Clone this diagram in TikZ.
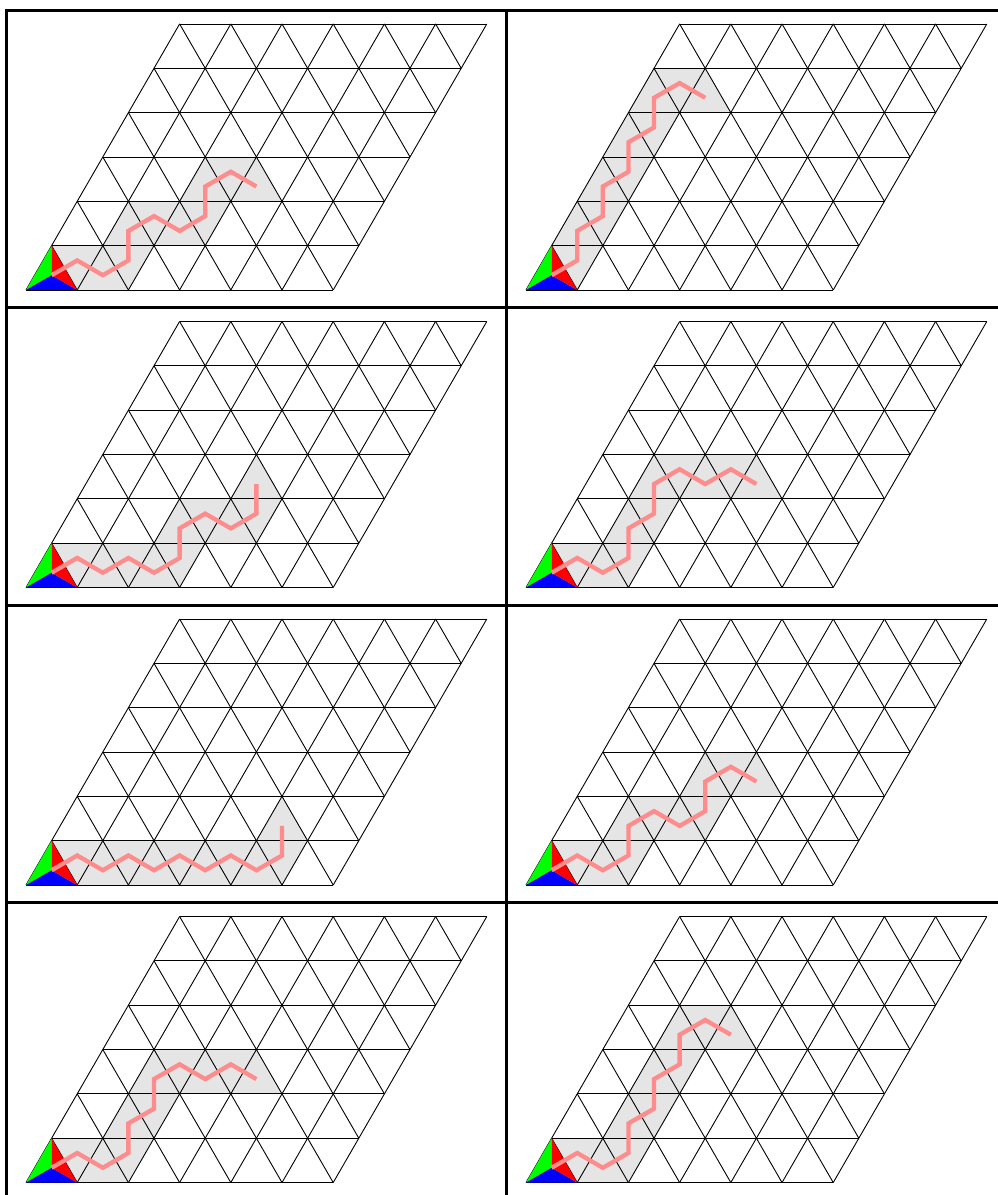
\documentclass[tikz,border=0pt]{standalone}
\usepackage{tikz}
\usepackage{xcolor}

% one framed lattice panel: #1 origin, #2 lower cells of the walk, #3/#4 last cell
\newcommand{\latpanel}[4]{%
  \draw[frameline] #1 ++(-0.38,-0.345) rectangle ++(9.766,5.811);
  \begin{scope}[shift={#1}, x={(1cm,0cm)}, y={(0.5cm,0.8660cm)}]
    \foreach \i/\j in {#2} {
      \fill[cellfill] (\i,\j) -- ++(1,0) -- ++(-1,1) -- cycle;
      \fill[cellfill] (\i+1,\j) -- ++(0,1) -- ++(-1,0) -- cycle;
    }
    \fill[cellfill] (#3,#4) -- ++(1,0) -- ++(-1,1) -- cycle;
    \foreach \k in {0,...,6} {
      \draw[gridline] (0,\k) -- (6,\k);
      \draw[gridline] (\k,0) -- (\k,6);
    }
    \foreach \k in {1,...,6} \draw[gridline] (\k,0) -- (0,\k);
    \foreach \k in {1,...,5} \draw[gridline] (6,\k) -- (\k,6);
    \fill[green] (0,0) -- (0,1) -- (1/3,1/3) -- cycle;
    \fill[blue] (0,0) -- (1,0) -- (1/3,1/3) -- cycle;
    \fill[red] (1,0) -- (0,1) -- (1/3,1/3) -- cycle;
    \draw[trail] (1/3,1/3) \foreach \i/\j in {#2} { -- (\i+1/3,\j+1/3) -- (\i+2/3,\j+2/3) } -- (#3+1/3,#4+1/3);
  \end{scope}}

\begin{document}
\begin{tikzpicture}[
  cellfill/.style={fill=gray!20},
  gridline/.style={draw=black, line width=0.5pt},
  trail/.style={draw=red!45, line width=2.4pt},
  frameline/.style={draw=black, line width=1.6pt}
]
\useasboundingbox (0,0) rectangle (19.492,23.340);
% row 1
\latpanel{(0.508,17.676)}{0/0,1/0,1/1,2/1,2/2}{3}{2}
\latpanel{(10.274,17.676)}{0/0,0/1,0/2,0/3,0/4}{1}{4}
% row 2
\latpanel{(0.508,11.865)}{0/0,1/0,2/0,2/1,3/1}{3}{2}
\latpanel{(10.274,11.865)}{0/0,1/0,1/1,1/2,2/2}{3}{2}
% row 3
\latpanel{(0.508,6.054)}{0/0,1/0,2/0,3/0,4/0}{4}{1}
\latpanel{(10.274,6.054)}{0/0,1/0,1/1,2/1,2/2}{3}{2}
% row 4
\latpanel{(0.508,0.243)}{0/0,1/0,1/1,1/2,2/2}{3}{2}
\latpanel{(10.274,0.243)}{0/0,1/0,1/1,1/2,1/3}{2}{3}
\end{tikzpicture}
\end{document}
